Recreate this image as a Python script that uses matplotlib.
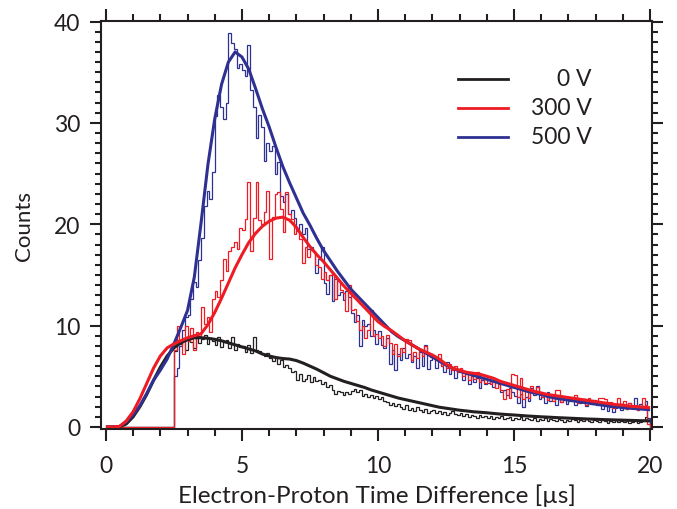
import numpy as np
import matplotlib
matplotlib.use("Agg")
import matplotlib.pyplot as plt
from matplotlib.ticker import MultipleLocator

plt.rcParams['font.family'] = ['Lato', 'DejaVu Sans']

# histogram bins: 0.1 us wide from 0 to 20 us, empty below 2.5 us
bin_width = 0.1
hist_start = 2.5

hist_0v = [
    7.5, 8.6, 8.2, 8.8, 7.6,
    8.9, 8.4, 7.8, 9.0, 8.3, 8.7, 9.1, 8.2, 8.8, 8.5,
    8.1, 8.9, 7.9, 8.4, 8.6, 7.8, 8.9, 7.6, 8.2, 7.9,
    8.0, 7.4, 8.1, 7.3, 8.9, 7.6, 7.5, 7.2, 7.0, 7.3,
    6.8, 6.5, 6.9, 6.2, 6.6, 5.9, 6.1, 5.8, 5.4, 5.5,
    4.6, 5.2, 4.5, 4.7, 5.1, 4.4, 4.9, 4.5, 4.6, 4.2,
    4.4, 3.9, 4.1, 3.6, 3.3, 3.5, 3.4, 3.2, 3.4, 3.3,
    3.5, 3.7, 3.4, 3.6, 3.1, 3.3, 3.0, 3.2, 2.9, 3.1,
    2.8, 3.0, 2.6, 2.5, 2.2, 2.4, 2.1, 2.3, 2.0, 1.8,
    2.2, 1.7, 1.9, 1.6, 2.0, 1.7, 1.5, 1.8, 1.4, 1.6,
    1.7, 1.4, 1.6, 1.3, 1.5, 1.2, 1.4, 1.6, 1.3, 1.2,
    1.4, 1.1, 1.3, 1.0, 1.2, 1.1, 0.9, 1.2, 1.0, 1.1,
    0.9, 1.1, 0.8, 1.0, 0.9, 1.1, 0.8, 0.9, 1.0, 0.7,
    0.9, 0.8, 1.0, 0.7, 0.9, 0.8, 0.7, 0.9, 0.6, 0.8,
    0.7, 0.9, 0.6, 0.8, 0.7, 0.6, 0.8, 0.7, 0.5, 0.7,
    0.6, 0.8, 0.7, 0.5, 0.7, 0.6, 0.8, 0.6, 0.5, 0.7,
    0.6, 0.5, 0.7, 0.6, 0.4, 0.6, 0.5, 0.7, 0.5, 0.6,
    0.5, 0.6, 0.4, 0.5, 0.6, 0.4, 0.5, 0.7, 1.0, 0.6,
]

hist_300v = [
    7.6, 10.0, 8.3, 7.2, 10.0,
    8.5, 9.8, 7.6, 9.4, 9.0, 11.8, 10.2, 10.8, 9.4, 12.6,
    13.4, 12.8, 14.5, 16.6, 15.4, 17.4, 17.8, 18.2, 17.6, 19.6,
    19.4, 20.5, 24.2, 17.4, 20.6, 24.2, 20.4, 20.0, 21.2, 23.3,
    16.6, 20.7, 23.0, 23.2, 21.5, 19.2, 23.2, 21.0, 20.5, 19.0,
    19.3, 18.5, 16.2, 17.8, 16.8, 17.5, 17.4, 16.0, 15.8, 14.6,
    15.3, 14.5, 15.0, 15.2, 12.6, 14.4, 13.5, 13.2, 11.4, 14.0,
    11.5, 11.6, 10.5, 9.6, 10.0, 8.8, 9.6, 11.5, 9.0, 9.2,
    8.8, 9.0, 8.0, 9.1, 8.3, 7.2, 8.2, 7.0, 7.8, 7.4,
    8.7, 8.6, 6.6, 7.4, 6.8, 7.5, 7.0, 8.0, 7.2, 6.9,
    7.0, 6.6, 7.2, 6.0, 6.3, 5.8, 6.2, 5.6, 6.0, 5.4,
    5.8, 5.0, 5.4, 4.6, 5.2, 4.7, 5.4, 4.4, 4.8, 4.3,
    4.6, 4.2, 4.5, 3.8, 4.4, 3.6, 2.8, 3.7, 2.9, 5.2,
    5.1, 3.0, 4.8, 2.8, 3.6, 2.9, 4.0, 3.5, 3.9, 3.4,
    3.0, 3.3, 2.7, 3.1, 2.6, 3.6, 3.6, 2.5, 3.0, 2.8,
    2.9, 2.6, 3.2, 2.4, 2.8, 2.7, 2.2, 2.9, 2.5, 2.6,
    2.4, 2.85, 2.9, 2.8, 2.2, 2.5, 1.9, 2.3, 2.85, 2.0,
    2.6, 1.8, 2.4, 2.0, 2.2, 1.7, 2.1, 2.9, 2.2, 0.3,
]

hist_500v = [
    5.0, 5.8, 8.0, 9.6, 10.8,
    11.0, 12.6, 14.3, 13.8, 16.5, 18.6, 21.8, 23.3, 22.5, 25.2,
    30.7, 32.8, 31.6, 30.4, 32.0, 38.9, 37.9, 37.3, 35.4, 35.8,
    35.2, 34.6, 37.7, 33.2, 31.6, 28.5, 30.8, 29.6, 26.2, 28.0,
    27.2, 27.7, 25.0, 26.1, 22.8, 22.2, 23.0, 21.0, 21.4, 20.6,
    19.4, 20.0, 19.0, 19.6, 17.6, 17.8, 17.4, 15.2, 16.6, 17.8,
    14.2, 13.1, 15.0, 12.4, 14.6, 13.0, 13.3, 12.5, 13.4, 12.8,
    11.2, 10.4, 11.0, 8.0, 10.6, 10.0, 10.2, 9.0, 9.6, 8.2,
    9.5, 8.1, 7.8, 8.8, 6.2, 7.6, 5.6, 7.2, 6.6, 7.8,
    6.8, 7.2, 6.4, 7.0, 5.8, 7.4, 6.0, 8.1, 5.7, 6.6,
    7.0, 5.8, 6.6, 6.0, 5.4, 6.4, 5.2, 5.8, 4.8, 5.5,
    5.6, 4.6, 5.2, 4.2, 5.0, 4.4, 4.8, 3.8, 4.6, 4.2,
    4.3, 4.6, 3.9, 4.5, 4.2, 3.4, 3.6, 3.2, 3.8, 3.4,
    3.1, 2.4, 3.3, 2.0, 3.0, 2.6, 3.8, 3.2, 4.0, 2.8,
    3.0, 2.4, 3.4, 2.6, 3.1, 2.2, 2.8, 2.5, 3.0, 2.3,
    2.6, 2.9, 2.2, 2.7, 2.4, 2.8, 2.1, 2.5, 2.3, 2.7,
    2.2, 2.5, 1.8, 2.3, 1.6, 2.0, 1.5, 1.9, 2.2, 1.7,
    2.1, 1.8, 2.4, 1.9, 2.9, 1.7, 2.3, 2.0, 2.6, 0.9,
]

# smooth model curves, sampled every 0.25 us
fit_step = 0.25
fit_0v = [
    0.0, 0.0, 0.0, 0.3, 1.0, 2.0, 3.2, 4.6, 5.9, 7.0,
    7.8, 8.3, 8.6, 8.8, 8.8, 8.75, 8.65, 8.5, 8.3, 8.1,
    7.9, 7.7, 7.5, 7.2, 7.0, 6.85, 6.75, 6.7, 6.55, 6.3,
    6.0, 5.7, 5.35, 5.0, 4.75, 4.5, 4.3, 4.1, 3.9, 3.65,
    3.45, 3.25, 3.05, 2.85, 2.7, 2.55, 2.4, 2.25, 2.1, 1.95,
    1.85, 1.75, 1.65, 1.58, 1.5, 1.45, 1.4, 1.33, 1.27, 1.22,
    1.18, 1.13, 1.08, 1.04, 1.0, 0.97, 0.93, 0.9, 0.87, 0.84,
    0.81, 0.78, 0.76, 0.73, 0.71, 0.69, 0.67, 0.65, 0.63, 0.61,
    0.6,
]
fit_300v = [
    0.0, 0.0, 0.05, 0.6, 1.5, 2.8, 4.3, 5.8, 7.0, 7.8,
    8.2, 8.5, 8.8, 9.0, 9.2, 10.1, 11.3, 12.7, 14.2, 15.7,
    17.0, 18.2, 19.1, 19.8, 20.3, 20.6, 20.7, 20.4, 19.7, 18.7,
    17.8, 17.0, 16.3, 15.5, 14.7, 13.9, 13.2, 12.5, 11.8, 11.1,
    10.4, 9.9, 9.5, 9.0, 8.5, 8.1, 7.7, 7.4, 7.1, 6.7,
    6.2, 5.8, 5.6, 5.4, 5.3, 5.2, 5.0, 4.8, 4.5, 4.3,
    4.1, 3.9, 3.7, 3.5, 3.35, 3.2, 3.1, 3.0, 2.9, 2.8,
    2.7, 2.6, 2.5, 2.4, 2.3, 2.2, 2.15, 2.05, 2.0, 1.95,
    1.9,
]
fit_500v = [
    0.0, 0.0, 0.05, 0.5, 1.2, 2.1, 3.3, 4.6, 5.6, 6.7,
    8.2, 9.8, 11.5, 14.8, 20.2, 25.9, 30.4, 33.8, 36.0, 37.0,
    36.5, 35.3, 33.4, 31.4, 29.6, 27.6, 25.7, 24.1, 22.6, 21.1,
    19.9, 18.6, 17.4, 16.4, 15.4, 14.5, 13.6, 12.9, 12.2, 11.5,
    10.8, 10.1, 9.4, 8.9, 8.5, 8.1, 7.7, 7.3, 6.9, 6.5,
    6.1, 5.8, 5.5, 5.3, 5.1, 4.9, 4.7, 4.5, 4.3, 4.1,
    3.9, 3.7, 3.5, 3.35, 3.2, 3.0, 2.85, 2.75, 2.65, 2.55,
    2.45, 2.35, 2.25, 2.15, 2.05, 2.0, 1.9, 1.85, 1.8, 1.75,
    1.7,
]

labels = ["0 V", "300 V", "500 V"]
colors = ["#231f20", "#ed1c24", "#2e3192"]

edges = np.round(np.arange(0, 20 + bin_width / 2, bin_width), 3)
n_empty = int(round(hist_start / bin_width))


def full_hist(vals):
    return np.concatenate([np.zeros(n_empty), np.array(vals)])


t_fit = np.arange(len(fit_0v)) * fit_step

fig = plt.figure(figsize=(6.77, 5.10), dpi=100)
ax = fig.add_axes([0.1492, 0.1559, 0.8139, 0.8019])

# histograms (thin steps)
for vals, c in [(hist_0v, colors[0]), (hist_500v, colors[2]), (hist_300v, colors[1])]:
    ax.stairs(full_hist(vals), edges, color=c, lw=0.9, baseline=0)

# fitted curves (thick)
for vals, c in [(fit_0v, colors[0]), (fit_500v, colors[2]), (fit_300v, colors[1])]:
    ax.plot(t_fit, vals, color=c, lw=2.2, solid_capstyle='butt')

ax.set_xlim(-0.18, 20.07)
ax.set_ylim(-0.25, 40.1)

ax.xaxis.set_major_locator(MultipleLocator(5))
ax.xaxis.set_minor_locator(MultipleLocator(1))
ax.yaxis.set_major_locator(MultipleLocator(10))
ax.yaxis.set_minor_locator(MultipleLocator(1))

for s in ax.spines.values():
    s.set_linewidth(1.5)
    s.set_color("#231f20")

ax.tick_params(axis='x', which='major', direction='out', length=8.5, width=1.5,
               top=True, labelsize=16.5, pad=10, colors="#231f20")
ax.tick_params(axis='x', which='minor', direction='out', length=5, width=1.5, top=True,
               colors="#231f20")
ax.tick_params(axis='y', which='major', direction='out', length=8, width=1.5,
               right=True, labelsize=16.5, pad=7, colors="#231f20")
ax.tick_params(axis='y', which='minor', direction='out', length=4.5, width=1.5, right=True,
               colors="#231f20")

ax.set_xlabel("Electron-Proton Time Difference [µs]", fontsize=17.5, color="#231f20", labelpad=5)
ax.set_ylabel("Counts", fontsize=16, color="#231f20", labelpad=14)

# legend drawn by hand so the labels are right aligned
for i, (lab, c) in enumerate(zip(labels, colors)):
    y = 0.858 - i * 0.071
    ax.plot([0.648, 0.739], [y, y], transform=ax.transAxes, color=c, lw=2.0)
    ax.text(0.891, y, lab, transform=ax.transAxes, ha='right', va='center',
            fontsize=16.5, color="#231f20")

fig.savefig("out.png", dpi=100)
